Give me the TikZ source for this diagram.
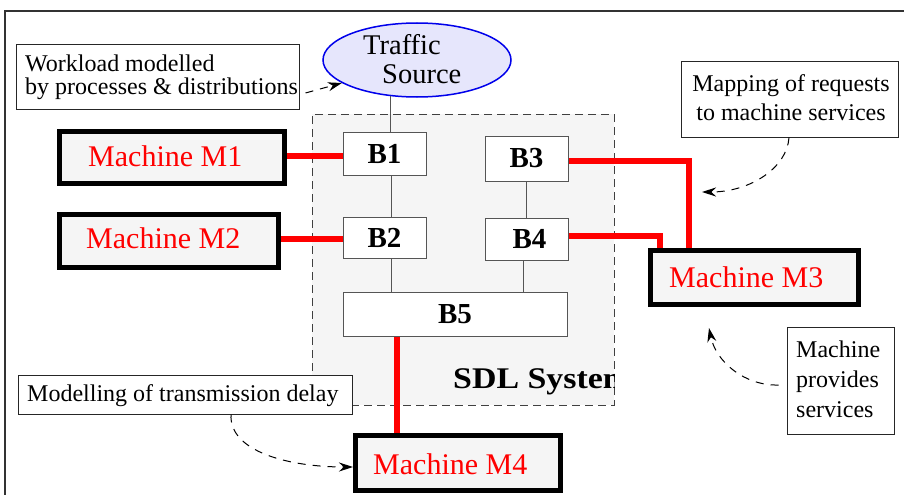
\documentclass[tikz,border=0pt]{standalone}
\usepackage{fontspec}
\setmainfont{Liberation Serif}
\usetikzlibrary{shapes.geometric,arrows.meta,calc}
\definecolor{machfill}{RGB}{245,245,245}
\definecolor{sdlfill}{RGB}{245,245,245}
\definecolor{srcfill}{RGB}{230,230,252}
\definecolor{srcline}{RGB}{0,0,235}
\definecolor{framegray}{RGB}{50,50,50}
\definecolor{boxgray}{RGB}{85,85,85}
\begin{document}
\begin{tikzpicture}[x=1pt,y=-1pt,
  notebox/.style={draw=black!85, line width=1pt, fill=white, inner sep=0},
  machine/.style={draw=black, line width=5pt, fill=machfill, inner sep=0},
  block/.style={draw=boxgray, line width=1pt, fill=white, inner sep=0,
    font=\fontsize{29}{29}\selectfont\bfseries},
  link/.style={draw=boxgray, line width=1pt},
  redlink/.style={draw=red, line width=5.5pt},
  annot/.style={font=\fontsize{24}{24}\selectfont, inner sep=0, anchor=base west},
  machlabel/.style={font=\fontsize{30}{30}\selectfont, text=red, inner sep=0, anchor=base west},
  notearrow/.style={draw=black, line width=1pt, dash pattern=on 8pt off 7pt,
    -{Stealth[length=14pt,width=9pt]}}]
\useasboundingbox (0,0) rectangle (904,495);

% outer frame
\draw[framegray, line width=2pt] (904,11) -- (5,11) -- (5,495);

% SDL system area
\node[draw=black!75, dash pattern=on 8pt off 5pt, line width=1pt, fill=sdlfill,
  minimum width=302pt, minimum height=291pt, inner sep=0] (sdl) at (463,259.5) {};
\begin{scope}
  \clip (sdl.south west) rectangle (sdl.north east);
  \node[inner sep=0, anchor=base west, xscale=1.13,
    font=\fontsize{30}{30}\selectfont\bfseries]
    (sdllabel) at (453,388) {SDL System};
\end{scope}

% traffic source
\node[ellipse, draw=srcline, line width=1.5pt, fill=srcfill,
  minimum width=188pt, minimum height=74pt, inner sep=0] (src) at (417,60) {};
\node[annot, font=\fontsize{28.5}{28.5}\selectfont] (srcl1) at (363,55) {Traffic};
\node[annot, font=\fontsize{28.5}{28.5}\selectfont] (srcl2) at (382,83) {Source};

% blocks
\node[block, minimum width=83pt, minimum height=43pt] (B1) at (384.5,153.5) {B1};
\node[block, minimum width=83pt, minimum height=45pt] (B3) at (526.5,158.5) {B3};
\node[block, minimum width=83pt, minimum height=41pt] (B2) at (384.5,237.5) {B2};
\node[block, minimum width=83pt, minimum height=42pt] (B4) at (526.5,239) {\hspace{6pt}B4};
\node[block, minimum width=224pt, minimum height=44pt] (B5) at (455,314) {B5};

% channels between blocks
\coordinate (xa) at (391,0);
\coordinate (xb) at (526,0);
\coordinate (xc) at (523,0);
\draw[link] (src.234) -- (src.234 |- B1.north);
\draw[link] (B1.south -| xa) -- (B2.north -| xa);
\draw[link] (B3.south -| xb) -- (B4.north -| xb);
\draw[link] (B2.south -| xa) -- (B5.north -| xa);
\draw[link] (B4.south -| xc) -- (B5.north -| xc);

% machines
\node[machine, minimum width=225pt, minimum height=52pt] (M1) at (172,157.5) {};
\node[machlabel] (M1l) at (88,166) {Machine M1};
\node[machine, minimum width=219pt, minimum height=53pt] (M2) at (169,241) {};
\node[machlabel] (M2l) at (86,248) {Machine M2};
\node[machine, minimum width=208pt, minimum height=54pt] (M3) at (754.5,277.5) {};
\node[machlabel] (M3l) at (669,287) {Machine M3};
\node[machine, minimum width=205pt, minimum height=55pt] (M4) at (458,463) {};
\node[machlabel] (M4l) at (373,474) {Machine M4};

% mapping of blocks onto machines
\coordinate (y1) at (0,156);
\coordinate (y2) at (0,239);
\coordinate (k3) at (689,161);
\coordinate (k4) at (660,236);
\coordinate (x5) at (397,0);
\draw[redlink] (M1.east |- y1) -- (B1.west |- y1);
\draw[redlink] (M2.east |- y2) -- (B2.west |- y2);
\draw[redlink] (B3.east |- k3) -- (k3) -- (k3 |- M3.north);
\draw[redlink] (B4.east |- k4) -- (k4) -- (k4 |- M3.north);
\draw[redlink] (B5.south -| x5) -- (M4.north -| x5);

% annotations
\node[notebox, minimum width=283pt, minimum height=64pt] (wl) at (157.5,77) {};
\node[annot] (wl1) at (25,71) {Workload modelled};
\node[annot] (wl2) at (25,94) {by processes \& distributions};

\node[notebox, minimum width=217pt, minimum height=75pt] (map) at (789.5,99.5) {};
\node[annot, anchor=base] (map1) at (791,92) {Mapping of requests};
\node[annot, anchor=base] (map2) at (791,120) {to machine services};

\node[notebox, minimum width=107pt, minimum height=107pt] (prov) at (840.5,380.5) {};
\node[annot] (prov1) at (796,357) {Machine};
\node[annot] (prov2) at (796,387) {provides};
\node[annot] (prov3) at (796,417) {services};

\node[notebox, minimum width=334pt, minimum height=39pt] (del) at (185,394.5) {};
\node[annot] (del1) at (27,401) {Modelling of transmission delay};

% annotation arrows
\coordinate (mapgoal) at (702,192);
\coordinate (provgoal) at (709,328);
\draw[notearrow] ([shift={(6,16)}]wl.east) -- (src.197);
\draw[notearrow] (map.south -| 789,0) .. controls (787,168) and (750,192) .. (mapgoal);
\draw[notearrow] ([xshift=-8pt]prov.west |- 0,385) .. controls (745,386) and (716,362) .. (provgoal);
\draw[notearrow] (del.south -| 231,0) .. controls (229,452) and (290,467) .. (M4.west |- 0,467);
\end{tikzpicture}
\end{document}
